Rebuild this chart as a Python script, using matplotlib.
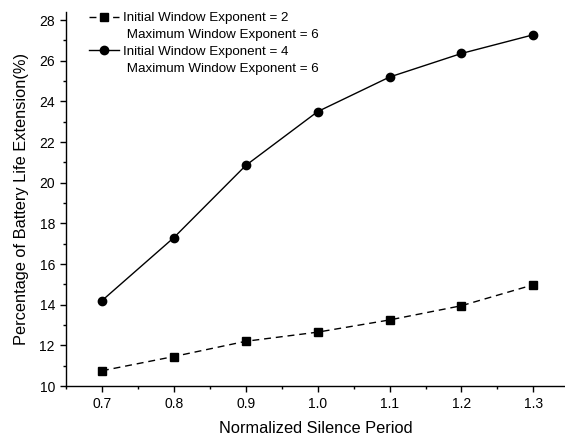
import matplotlib
matplotlib.use("Agg")
import matplotlib.pyplot as plt
from matplotlib.lines import Line2D
from matplotlib.ticker import MultipleLocator

plt.rcParams['font.family'] = ['Liberation Sans', 'DejaVu Sans']

silence = [0.7, 0.8, 0.9, 1.0, 1.1, 1.2, 1.3]
exp2_values = [10.75, 11.45, 12.2, 12.65, 13.25, 13.95, 14.98]
exp4_values = [14.2, 17.3, 20.85, 23.5, 25.2, 26.36, 27.28]
labels = ["Initial Window Exponent = 2", " Maximum Window Exponent = 6",
          "Initial Window Exponent = 4", " Maximum Window Exponent = 6"]
xticks = [0.7, 0.8, 0.9, 1.0, 1.1, 1.2, 1.3]
yticks = [10, 12, 14, 16, 18, 20, 22, 24, 26, 28]

fig = plt.figure(figsize=(5.65, 4.38), dpi=100)
ax = fig.add_axes([66/565, 52/438, 1 - 66/565, (386-12)/438])

l1, = ax.plot(silence, exp2_values, color='black', lw=1.0, ls=(0, (5, 3.5)),
              marker='s', ms=5.4)
l2, = ax.plot(silence, exp4_values, color='black', lw=1.0, ls='-',
              marker='o', ms=6)

ax.set_xlim(0.65, 1.344)
ax.set_ylim(10, 28.4)
ax.set_xticks(xticks)
ax.set_xticklabels([f"{v:.1f}" for v in xticks])
ax.set_yticks(yticks)
ax.xaxis.set_minor_locator(MultipleLocator(0.05))
ax.yaxis.set_minor_locator(MultipleLocator(1))
ax.tick_params(which='major', direction='out', length=4, width=1, labelsize=10, pad=4)
ax.tick_params(which='minor', direction='out', length=2.5, width=1)
for s in ['top', 'right']:
    ax.spines[s].set_visible(False)
for s in ['left', 'bottom']:
    ax.spines[s].set_linewidth(1.0)

ax.set_xlabel("Normalized Silence Period", fontsize=11.8, labelpad=7)
ax.set_ylabel("Percentage of Battery Life Extension(%)", fontsize=11.8, labelpad=7)

blank = Line2D([], [], color='none')
leg = fig.legend([l1, blank, l2, blank], labels, loc='upper left',
                 bbox_to_anchor=(89/565, 1 - 12/438), frameon=False, fontsize=9.6,
                 handlelength=2.25, handletextpad=0.3, borderpad=0, borderaxespad=0,
                 labelspacing=0.33)

fig.savefig("out.png", dpi=100)
